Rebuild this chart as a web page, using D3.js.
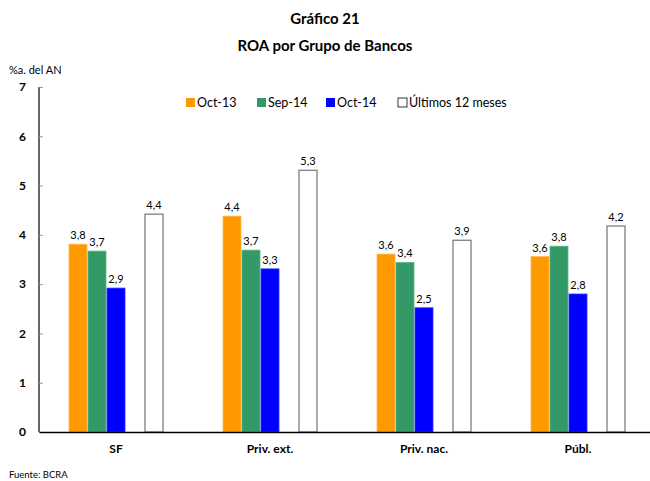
<!DOCTYPE html>
<html>
<head>
    <meta charset="utf-8">
    <title>ROA por Grupo de Bancos</title>
    <script src="https://d3js.org/d3.v7.min.js"></script>
    <style>
        body { margin: 0; background: #fff; }
        svg, svg g { font-family: Lato, "Open Sans", sans-serif; }
        .title { font-size: 15px; font-weight: bold; text-anchor: middle; }
        .tick text { font-size: 12px; font-weight: bold; fill: #000; font-family: Lato, sans-serif; }
        .val { font-size: 11px; text-anchor: middle; }
        .leg { font-size: 12.5px; }
    </style>
</head>
<body>
    <div id="chart"></div>
    <script>
        // Data
        const categories = ["SF", "Priv. ext.", "Priv. nac.", "Públ."];
        const seriesNames = ["Oct-13", "Sep-14", "Oct-14", "Últimos 12 meses"];
        const oct13 = [3.81, 4.38, 3.61, 3.56];
        const sep14 = [3.67, 3.69, 3.44, 3.77];
        const oct14 = [2.92, 3.31, 2.52, 2.80];
        const last12 = [4.42, 5.31, 3.89, 4.18];
        const yTicks = [0, 1, 2, 3, 4, 5, 6, 7];

        const seriesValues = [oct13, sep14, oct14, last12];
        const fills = ["#FF9900", "#339966", "#0000FF", "#FFFFFF"];
        const strokes = ["#FFB84D", "#5BB585", "#3333FF", "#7F7F7F"];
        // slot keys: the fourth slot stays empty, as in the original
        const slots = ["s0", "s1", "s2", "gap", "s3"];
        const slotOf = ["s0", "s1", "s2", "s3"];

        const width = 650, height = 481;
        const margin = { top: 87, right: -5, bottom: 49, left: 39 };

        const svg = d3.select("#chart").append("svg")
            .attr("width", width)
            .attr("height", height);

        const x0 = d3.scaleBand()
            .domain(categories)
            .range([margin.left, width - margin.right]);

        const x1 = d3.scaleBand()
            .domain(slots)
            .range([29.5, x0.bandwidth() - 29.5]);

        const y = d3.scaleLinear()
            .domain([0, 7])
            .range([height - margin.bottom, margin.top]);

        // titles
        svg.append("text").attr("class", "title")
            .attr("x", 325).attr("y", 24).text("Gráfico 21");
        svg.append("text").attr("class", "title")
            .attr("x", 325).attr("y", 51).text("ROA por Grupo de Bancos");
        svg.append("text")
            .attr("x", 9).attr("y", 74)
            .attr("font-size", 11)
            .text("%a. del AN");

        // bars
        const groups = svg.append("g")
            .selectAll("g")
            .data(categories)
            .join("g")
            .attr("transform", d => "translate(" + x0(d) + ",0)");

        groups.each(function (cat, ci) {
            const g = d3.select(this);
            seriesValues.forEach((vals, si) => {
                const v = vals[ci];
                g.append("rect")
                    .attr("x", x1(slotOf[si]) + 0.5)
                    .attr("y", y(v))
                    .attr("width", x1.bandwidth() - 1)
                    .attr("height", y(0) - y(v))
                    .attr("fill", fills[si])
                    .attr("stroke", strokes[si])
                    .attr("stroke-width", si === 3 ? 1.3 : 0.8);
                g.append("text")
                    .attr("class", "val")
                    .attr("x", x1(slotOf[si]) + x1.bandwidth() / 2)
                    .attr("y", y(v) - 5)
                    .text(v.toFixed(1).replace(".", ","));
            });
        });

        // y axis
        const yAxis = svg.append("g")
            .attr("transform", "translate(" + margin.left + ",0)")
            .call(d3.axisLeft(y).tickValues(yTicks).tickFormat(d3.format("d")).tickSize(-4).tickPadding(13));
        yAxis.select(".domain").attr("stroke", "#000").attr("stroke-width", 1.2)
            .attr("d", "M0," + y(7) + "V" + y(0));
        yAxis.selectAll(".tick line").attr("stroke", "#999");

        // x axis
        const xAxis = svg.append("g")
            .attr("transform", "translate(0," + y(0) + ")")
            .call(d3.axisBottom(x0).tickSize(0).tickPadding(10));
        xAxis.select(".domain").attr("stroke", "#000").attr("stroke-width", 1.5);
        xAxis.selectAll(".tick text").attr("dy", "0.9em");

        // legend
        const legendX = [186, 257, 326, 398];
        const legend = svg.append("g")
            .selectAll("g")
            .data(seriesNames)
            .join("g")
            .attr("transform", (d, i) => "translate(" + legendX[i] + ",103)");
        legend.append("rect")
            .attr("x", 0).attr("y", -5)
            .attr("width", 9).attr("height", 9)
            .attr("fill", (d, i) => fills[i])
            .attr("stroke", (d, i) => i === 3 ? "#000" : "none")
            .attr("stroke-width", 0.8);
        legend.append("text")
            .attr("class", "leg")
            .attr("x", 11).attr("y", 0)
            .attr("dy", "0.35em")
            .text(d => d);

        svg.append("text")
            .attr("x", 9).attr("y", 478)
            .attr("font-size", 9.5)
            .text("Fuente: BCRA");
    </script>
</body>
</html>
